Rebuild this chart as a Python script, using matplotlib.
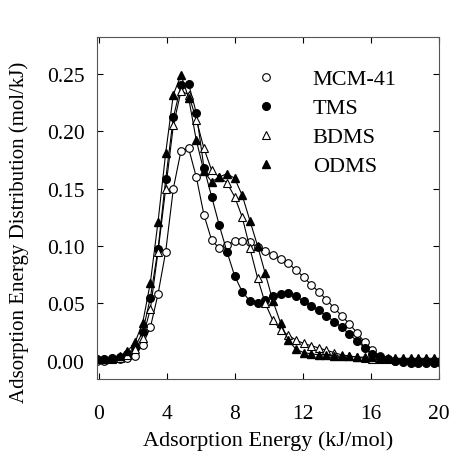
import matplotlib
matplotlib.use("Agg")
import matplotlib.pyplot as plt
from matplotlib.ticker import FormatStrFormatter

plt.rcParams['font.family'] = ['Liberation Serif', 'DejaVu Serif']

# adsorption energy (kJ/mol)
energy = [-0.11, 0.34, 0.79, 1.24, 1.69, 2.14, 2.59, 3.04, 3.49, 3.94,
          4.39, 4.84, 5.29, 5.74, 6.19, 6.64, 7.09, 7.54, 7.99, 8.44,
          8.89, 9.34, 9.79, 10.24, 10.69, 11.14, 11.59, 12.04, 12.49, 12.94,
          13.39, 13.84, 14.29, 14.74, 15.19, 15.64, 16.09, 16.54, 16.99, 17.44,
          17.89, 18.34, 18.79, 19.24, 19.69, 20.14]

mcm41 = [0.000, 0.000, 0.001, 0.001, 0.002, 0.004, 0.014, 0.029, 0.058, 0.095,
         0.150, 0.183, 0.185, 0.160, 0.127, 0.105, 0.098, 0.101, 0.104, 0.104,
         0.103, 0.099, 0.096, 0.092, 0.089, 0.085, 0.079, 0.073, 0.066, 0.060,
         0.053, 0.046, 0.039, 0.032, 0.024, 0.016, 0.009, 0.004, 0.001, 0.000,
         0.000, 0.000, 0.000, 0.000, 0.000, 0.000]

tms = [0.001, 0.001, 0.002, 0.003, 0.006, 0.012, 0.025, 0.055, 0.097, 0.158,
       0.212, 0.240, 0.241, 0.216, 0.168, 0.143, 0.118, 0.095, 0.074, 0.060,
       0.052, 0.050, 0.053, 0.056, 0.058, 0.059, 0.056, 0.052, 0.048, 0.044,
       0.039, 0.034, 0.029, 0.023, 0.017, 0.011, 0.006, 0.003, 0.001, 0.000,
       -0.001, -0.002, -0.002, -0.002, -0.002, -0.002]

bdms = [0.001, 0.001, 0.001, 0.002, 0.005, 0.010, 0.020, 0.045, 0.095, 0.150,
        0.205, 0.235, 0.232, 0.210, 0.185, 0.166, 0.160, 0.155, 0.143, 0.125,
        0.098, 0.072, 0.050, 0.035, 0.027, 0.022, 0.018, 0.015, 0.013, 0.011,
        0.009, 0.007, 0.005, 0.004, 0.003, 0.002, 0.001, 0.001, 0.001, 0.001,
        0.001, 0.001, 0.001, 0.001, 0.001, 0.001]

odms = [0.001, 0.001, 0.002, 0.004, 0.008, 0.016, 0.033, 0.068, 0.121, 0.181,
        0.232, 0.249, 0.229, 0.192, 0.165, 0.156, 0.160, 0.163, 0.159, 0.144,
        0.122, 0.100, 0.076, 0.052, 0.033, 0.018, 0.010, 0.007, 0.006, 0.005,
        0.005, 0.004, 0.004, 0.004, 0.003, 0.003, 0.003, 0.002, 0.002, 0.002,
        0.002, 0.002, 0.002, 0.002, 0.002, 0.002]

fig = plt.figure(figsize=(4.53, 4.60), dpi=100)
ax = fig.add_axes([0.214, 0.174, 0.755, 0.743])

ms = 5.5
ax.plot(energy, mcm41, '-o', color='black', lw=0.8, ms=ms, mfc='white', mec='black', mew=0.8, label='MCM-41')
ax.plot(energy, tms, '-o', color='black', lw=0.8, ms=ms, mfc='black', mec='black', label='TMS')
ax.plot(energy, bdms, '-^', color='black', lw=0.8, ms=ms, mfc='white', mec='black', mew=0.8, label='BDMS')
ax.plot(energy, odms, '-^', color='black', lw=0.8, ms=ms, mfc='black', mec='black', label='ODMS')

ax.set_xlim(-0.1, 20)
ax.set_ylim(-0.016, 0.282)
ax.set_xticks([0, 4, 8, 12, 16, 20])
ax.set_yticks([0.0, 0.05, 0.10, 0.15, 0.20, 0.25])
ax.yaxis.set_major_formatter(FormatStrFormatter('%.2f'))
ax.tick_params(direction='in', top=True, right=True, length=4, width=0.8, labelsize=15.5)
ax.tick_params(axis='x', pad=18)
ax.tick_params(axis='y', pad=9)
for s in ax.spines.values():
    s.set_linewidth(0.8)
    s.set_color('#555555')

ax.set_xlabel('Adsorption Energy (kJ/mol)', fontsize=16, labelpad=5)
ax.set_ylabel('Adsorption Energy Distribution (mol/kJ)', fontsize=15)
ax.yaxis.set_label_coords(-0.200, 0.433)

leg = ax.legend(loc='upper left', bbox_to_anchor=(0.41, 0.966), frameon=False,
                fontsize=16, handlelength=0.8, handletextpad=1.7, labelspacing=0.38)
for line in leg.get_lines():
    line.set_linestyle('None')

fig.savefig('out.png', dpi=100)
